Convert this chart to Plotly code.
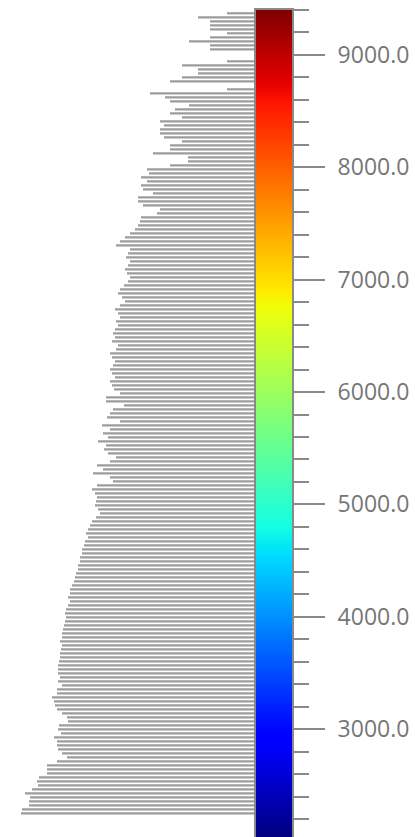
import plotly.graph_objects as go

# Left edge of each grey bar (pixels); converted to lengths below
left_edges = [
    227, 198, 210, 210, 210, 227, 210, 189, 210, 210, None, None, 227, 182, 198, 198, 182, 170, None, 227,
    150, 165, 170, 189, 175, 170, 182, 160, 164, 160, 160, 164, 182, 170, 170, 153, 188, 188, 170, 147,
    149, 141, 147, 141, 143, 153, 138, 138, 143, 160, 157, 141,
    140, 138, 135, 130, 125, 120, 116, 130, 128, 126, 130, 128, 125, 127, 130, 128, 124, 120, 118, 122,
    125, 120, 115, 118, 120, 116, 118, 115, 113, 115, 112, 118, 116, 110, 112, 115, 113, 110, 112, 115,
    110, 112, 114,
    120, 106, 106, 124, 113, 110, 107, 120, 102, 110, 103, 108, 98, 106, 104, 108, 116, 110, 97, 103,
    93, 110, 113, 97, 92,
    95, 97, 96, 95, 98, 100, 96, 92, 90, 88, 86, 88, 85, 84, 82, 82, 80, 80, 78, 78,
    76, 75, 74, 72, 70, 70, 68, 70, 68, 66, 65, 66, 65, 64, 63, 62, 62, 60, 62, 61,
    60, 60, 59, 58, 58, 58,
    60, 58, 62, 57, 57, 52, 54, 55, 57, 62, 67, 68, 59, 58, 61, 54, 57, 57, 58, 62,
    67, 57, 47, 47, 47, 39, 37, 38, 32, 25, 30, 29, 29, 22, 21,
]
BAR_END = 255
lengths = [None if v is None else BAR_END - v for v in left_edges]
rows = list(range(len(lengths)))

# colour scale range and ticks
CB_MIN, CB_MAX = 2050, 9400
AX_MIN, AX_MAX = 2040, 9400
jet = [
    [0.0, "rgb(0,0,128)"], [0.11, "rgb(0,0,255)"], [0.125, "rgb(0,0,255)"],
    [0.34, "rgb(0,219,255)"], [0.35, "rgb(0,230,247)"], [0.375, "rgb(21,255,226)"],
    [0.64, "rgb(239,255,8)"], [0.65, "rgb(247,245,0)"], [0.66, "rgb(255,236,0)"],
    [0.89, "rgb(255,19,0)"], [0.91, "rgb(232,0,0)"], [1.0, "rgb(128,0,0)"],
]

fig = go.Figure()
fig.add_trace(go.Bar(
    x=lengths, y=rows, orientation="h", width=0.55,
    marker=dict(color="#9c9c9c", line=dict(width=0)),
    xaxis="x", yaxis="y2", hoverinfo="skip", showlegend=False,
))
fig.add_trace(go.Heatmap(
    x=[0], y=[CB_MIN, CB_MAX], z=[[CB_MIN], [CB_MAX]],
    colorscale=jet, zmin=CB_MIN, zmax=CB_MAX, zsmooth="best",
    showscale=False, xaxis="x3", yaxis="y", hoverinfo="skip",
))

W, H = 415, 837
fig.update_layout(
    width=W, height=H, margin=dict(l=0, r=0, t=10, b=0),
    paper_bgcolor="white", plot_bgcolor="rgba(0,0,0,0)",
    xaxis=dict(domain=[0, BAR_END / W], range=[BAR_END, 0], visible=False),
    yaxis2=dict(range=[205.9, -0.825], visible=False, anchor="x"),
    xaxis3=dict(domain=[256 / W, 292 / W], range=[-0.5, 0.5], showticklabels=False,
                ticks="", showgrid=False, zeroline=False, showline=True, mirror=True,
                linecolor="#8a8a8a", linewidth=2, anchor="y"),
    yaxis=dict(range=[AX_MIN, AX_MAX], anchor="x3", side="right", showgrid=False, zeroline=False,
               showline=True, mirror=True, linecolor="#8a8a8a", linewidth=2,
               ticks="outside", ticklen=31, tickwidth=2, tickcolor="#8a8a8a",
               dtick=1000, tick0=0, tickformat=".1f", ticklabelstandoff=8,
               tickfont=dict(family="Open Sans", size=23, color="#767676"),
               minor=dict(dtick=200, tick0=0, ticks="outside", ticklen=15, tickwidth=2,
                          tickcolor="#8a8a8a", showgrid=False)),
)
fig.write_html("out.html")
